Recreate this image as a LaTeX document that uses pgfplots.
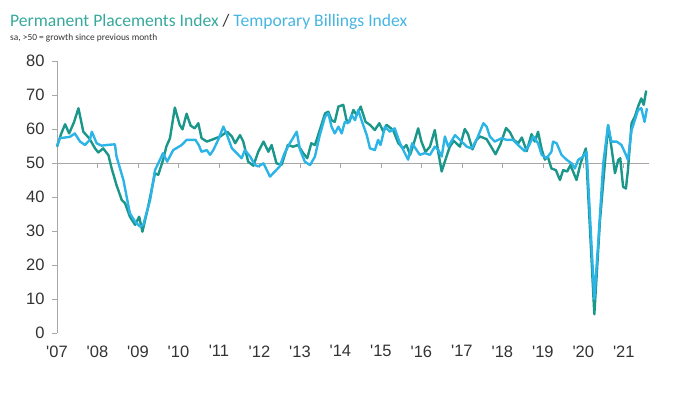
\documentclass[border=0pt]{standalone}
\usepackage{pgfplots}
\pgfplotsset{compat=1.18}
\usepackage{pgfplotstable}
\usepackage{fontspec}
\setmainfont{Liberation Sans}
\newfontfamily\titlefont{Carlito}
\definecolor{perm}{HTML}{1A968A}
\definecolor{temp}{HTML}{2DB4E6}
\definecolor{permT}{HTML}{36A99C}
\definecolor{tempT}{HTML}{45B6E2}
\definecolor{axgray}{HTML}{A8A8A8}
\definecolor{txt}{HTML}{333333}

\pgfplotstableread{
x y
2007.00 54.8
2007.10 58.5
2007.20 61.4
2007.30 58.7
2007.42 62.0
2007.53 66.1
2007.65 59.2
2007.80 57.2
2007.94 54.3
2008.02 53.1
2008.14 54.3
2008.27 52.3
2008.35 48.4
2008.47 43.5
2008.60 39.1
2008.68 38.2
2008.80 34.2
2008.93 31.8
2009.03 34.2
2009.11 29.8
2009.25 37.1
2009.42 47.0
2009.50 46.5
2009.62 50.9
2009.70 54.8
2009.79 57.3
2009.91 66.3
2010.03 61.2
2010.10 59.9
2010.20 64.5
2010.30 61.0
2010.40 60.2
2010.49 61.7
2010.57 57.3
2010.70 56.3
2010.86 57.0
2011.03 57.8
2011.20 59.2
2011.32 57.8
2011.40 55.8
2011.52 58.2
2011.60 56.3
2011.72 50.4
2011.85 49.2
2011.97 53.3
2012.10 56.3
2012.22 53.3
2012.30 55.3
2012.42 49.9
2012.55 49.5
2012.70 55.3
2012.83 54.8
2012.95 55.3
2013.08 52.9
2013.18 51.4
2013.28 55.8
2013.37 55.3
2013.49 59.7
2013.62 64.6
2013.70 65.1
2013.78 62.6
2013.86 62.1
2013.95 66.6
2014.07 67.1
2014.15 62.6
2014.22 62.1
2014.32 65.6
2014.40 64.1
2014.50 66.6
2014.62 62.1
2014.73 61.2
2014.85 59.7
2014.96 61.7
2015.06 59.2
2015.14 61.2
2015.30 59.7
2015.43 55.8
2015.55 54.3
2015.63 55.3
2015.72 52.4
2015.80 55.3
2015.92 60.2
2016.00 56.3
2016.10 53.3
2016.21 54.8
2016.33 59.7
2016.42 52.9
2016.50 47.5
2016.58 50.5
2016.70 54.8
2016.80 56.5
2016.95 54.8
2017.07 60.0
2017.15 58.5
2017.26 54.0
2017.36 56.8
2017.45 57.8
2017.61 57.0
2017.72 54.8
2017.83 52.6
2017.95 55.5
2018.09 60.3
2018.19 59.0
2018.28 56.8
2018.39 55.8
2018.48 57.5
2018.60 53.5
2018.72 58.5
2018.80 56.3
2018.88 59.2
2018.97 54.0
2019.05 51.0
2019.12 51.9
2019.21 48.4
2019.32 47.9
2019.42 45.0
2019.50 47.9
2019.60 47.5
2019.68 49.4
2019.83 45.0
2019.93 49.9
2020.06 54.3
2020.27 5.5
2020.41 33.2
2020.53 49.9
2020.61 61.0
2020.69 54.8
2020.78 47.0
2020.86 50.9
2020.91 51.4
2020.98 43.0
2021.05 42.5
2021.10 47.9
2021.19 61.7
2021.27 63.6
2021.35 66.6
2021.43 69.0
2021.49 67.1
2021.55 71.3
}\permdata

\pgfplotstableread{
x y
2007.00 55.0
2007.07 57.3
2007.20 57.5
2007.32 57.7
2007.44 58.7
2007.57 56.3
2007.69 55.3
2007.81 56.8
2007.86 59.2
2007.98 55.8
2008.10 55.1
2008.23 55.3
2008.43 55.5
2008.47 51.9
2008.64 45.0
2008.72 40.1
2008.80 35.2
2008.93 32.7
2009.05 31.3
2009.13 31.8
2009.30 39.1
2009.42 47.9
2009.62 52.9
2009.72 50.4
2009.87 53.8
2010.08 55.3
2010.20 56.8
2010.42 56.8
2010.50 55.3
2010.57 53.3
2010.70 53.8
2010.78 52.4
2010.86 53.8
2010.98 56.8
2011.11 60.7
2011.20 58.2
2011.32 54.3
2011.44 52.9
2011.56 51.4
2011.64 53.8
2011.77 51.9
2011.89 49.4
2011.97 49.0
2012.10 49.9
2012.26 46.0
2012.38 47.5
2012.50 49.0
2012.62 52.9
2012.75 55.8
2012.92 59.2
2013.00 54.0
2013.12 50.4
2013.25 49.4
2013.37 51.9
2013.49 58.2
2013.62 63.6
2013.70 64.6
2013.78 60.7
2013.86 58.7
2013.95 60.7
2014.03 58.7
2014.11 62.1
2014.19 61.7
2014.28 64.1
2014.36 62.6
2014.44 65.6
2014.52 62.6
2014.65 58.2
2014.73 54.3
2014.85 53.8
2014.93 56.8
2014.99 55.3
2015.10 60.7
2015.22 59.2
2015.34 60.2
2015.47 55.8
2015.59 52.9
2015.67 51.0
2015.77 55.8
2015.96 52.4
2016.08 52.9
2016.21 52.4
2016.33 54.8
2016.42 53.8
2016.50 51.9
2016.58 57.8
2016.66 54.8
2016.83 58.2
2016.95 56.8
2017.12 54.8
2017.24 54.3
2017.36 56.8
2017.53 61.7
2017.61 60.7
2017.69 57.8
2017.81 56.3
2017.98 57.3
2018.10 56.8
2018.26 56.8
2018.43 54.8
2018.55 53.5
2018.65 55.0
2018.76 57.8
2018.88 55.8
2018.97 52.4
2019.09 51.4
2019.21 53.3
2019.25 56.3
2019.34 55.8
2019.46 52.4
2019.59 50.9
2019.71 49.9
2019.79 48.4
2019.87 50.9
2019.99 51.9
2020.08 53.3
2020.27 10.0
2020.37 27.4
2020.49 49.9
2020.61 61.2
2020.69 56.3
2020.82 56.3
2020.94 55.3
2021.05 52.4
2021.10 50.9
2021.19 59.7
2021.27 62.6
2021.35 65.6
2021.43 66.1
2021.51 62.1
2021.57 66.1
}\tempdata

\begin{document}
\begin{tikzpicture}
\useasboundingbox (-57pt,-59pt) rectangle (637pt,333pt);
\begin{axis}[
  at={(0pt,0pt)}, anchor=south west,
  scale only axis,
  width=592pt, height=272pt,
  xmin=2007, xmax=2021.62,
  ymin=0, ymax=80,
  axis x line=bottom, axis y line=left,
  axis line style={-},
  x axis line style={draw=none},
  y axis line style={draw=axgray, line width=0.8pt},
  xtick={2007,...,2021},
  xticklabels={\textquotesingle07,\textquotesingle08,\textquotesingle09,\textquotesingle10,\textquotesingle11,\textquotesingle12,\textquotesingle13,\textquotesingle14,\textquotesingle15,\textquotesingle16,\textquotesingle17,\textquotesingle18,\textquotesingle19,\textquotesingle20,\textquotesingle21},
  xtick style={draw=none},
  ytick={0,10,...,80},
  ytick style={draw=axgray, line width=0.8pt},
  tick align=outside,
  major tick length=5pt,
  /pgf/number format/assume math mode=true,
  ticklabel style={font=\fontsize{16.5}{18}\selectfont, text=txt},
  yticklabel style={xshift=-4pt},
  xticklabel style={yshift=-4pt},
  clip=false,
]
\draw[axgray, line width=0.8pt] (axis cs:2007,50) -- (axis cs:2021.62,50);
\pgfplotsinvokeforeach{2008,...,2021}{\draw[axgray, line width=0.8pt] (axis cs:#1,50) -- ++(0pt,-5pt);}
\addplot[perm, line width=2.4pt, line join=round] table[x=x,y=y] {\permdata};
\addplot[temp, line width=2.4pt, line join=round] table[x=x,y=y] {\tempdata};
\end{axis}
\node[anchor=base west, inner sep=0pt, font=\titlefont\fontsize{17.6}{20}\selectfont] at (-47pt,307pt)
  {\textcolor{permT}{Permanent Placements Index} \textcolor{txt}{/} \textcolor{tempT}{Temporary Billings Index}};
\node[anchor=base west, inner sep=0pt, font=\titlefont\fontsize{9.4}{10}\selectfont, text=txt] at (-47pt,292.5pt)
  {sa, >50 = growth since previous month};
\end{tikzpicture}
\end{document}
